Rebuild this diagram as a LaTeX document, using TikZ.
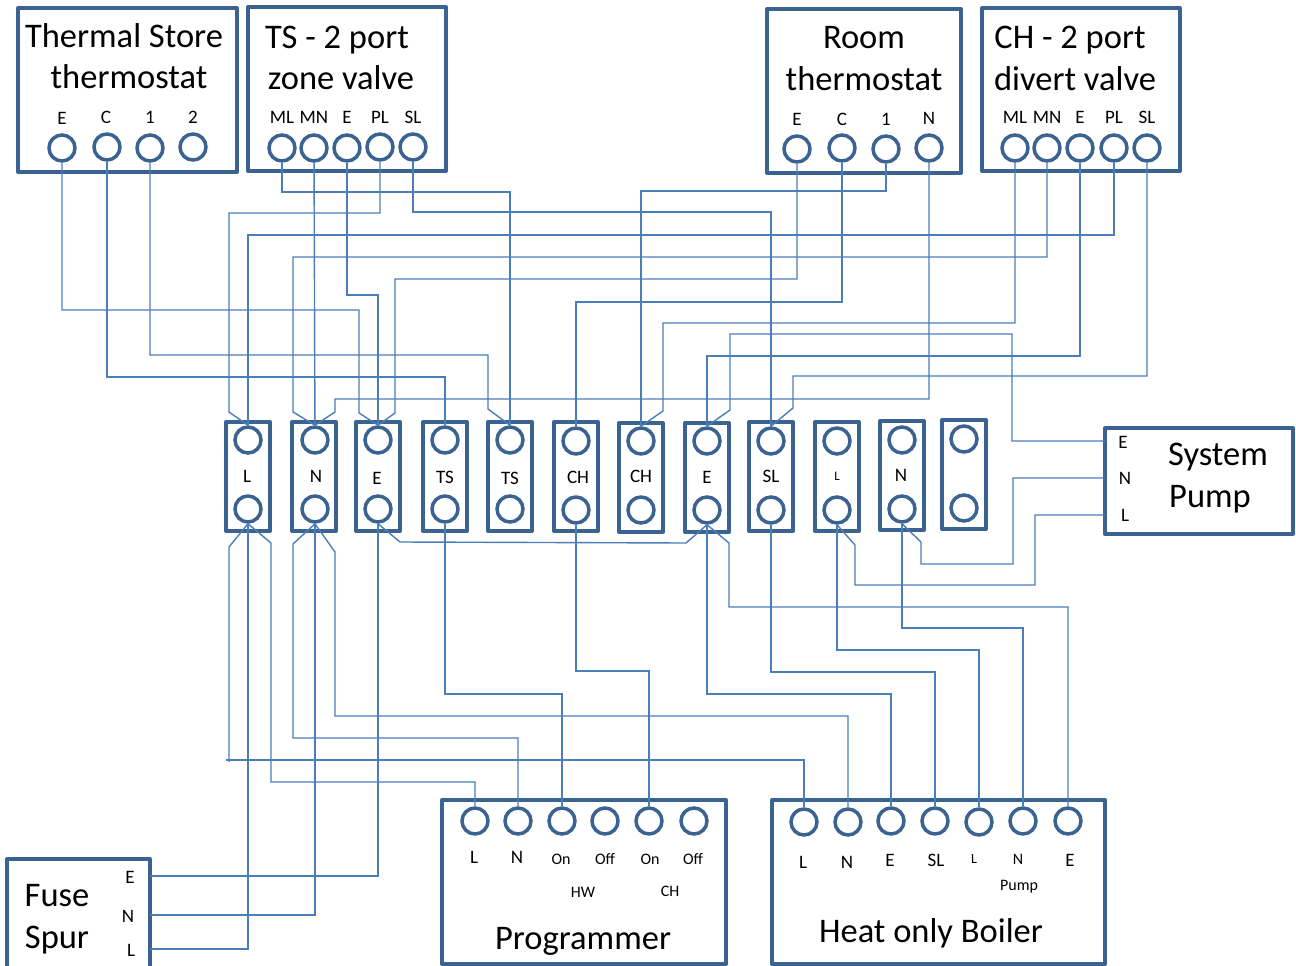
\documentclass[tikz,border=0pt]{standalone}
\usepackage{fontspec}
\setmainfont{Carlito}
\definecolor{boxblue}{HTML}{3B6392}
\definecolor{wireblue}{HTML}{4A7EBB}
\tikzset{
    box/.style={draw=boxblue,line width=4pt,line join=round,inner sep=0,outer sep=0,anchor=north west},
    strip/.style={box,minimum width=44,minimum height=109},
    term/.style={draw=boxblue,line width=3.5pt,circle,minimum size=26,inner sep=0},
    wire/.style={draw=wireblue,line width=1.4pt},
    big/.style={inner sep=0,font=\fontsize{34.5}{38}\selectfont},
    lab/.style={inner sep=0,font=\fontsize{19}{22}\selectfont},
    tiny/.style={inner sep=0,font=\fontsize{16}{19}\selectfont}
}
\begin{document}
\begin{tikzpicture}[x=1pt,y=-1pt]
    \useasboundingbox (0,0) rectangle (1296,966);
    % top units
    \node[box,minimum width=219,minimum height=164] (tstat) at (18,8) {};
    \node[big] (tstata) at (124,36) {Thermal Store};
    \node[big] (tstatb) at (129,77) {thermostat};
    \node[lab] (tElab) at (62,118) {E};
    \node[lab] (tClab) at (106,117) {C};
    \node[lab] (tOlab) at (150,117) {1};
    \node[lab] (tTlab) at (193,117) {2};
    \node[term] (tE) at (62,148) {};
    \node[term] (tC) at (107,147) {};
    \node[term] (tO) at (150,148) {};
    \node[term] (tT) at (193,147) {};

    \node[box,minimum width=198,minimum height=164] (zone) at (248,7) {};
    \node[big] (zonea) at (337,40) {TS - 2 port};
    \node[big] (zoneb) at (341,78) {zone valve};
    \node[lab] (zMLlab) at (282,117) {ML};
    \node[lab] (zMNlab) at (314,117) {MN};
    \node[lab] (zElab) at (347,117) {E};
    \node[lab] (zPLlab) at (380,117) {PL};
    \node[lab] (zSLlab) at (413,117) {SL};
    \node[term] (zML) at (282,148) {};
    \node[term] (zMN) at (314,148) {};
    \node[term] (zE) at (347,148) {};
    \node[term] (zPL) at (380,147) {};
    \node[term] (zSL) at (413,147) {};

    \node[box,minimum width=194,minimum height=164] (room) at (767,9) {};
    \node[big] (rooma) at (864,38) {Room};
    \node[big] (roomb) at (864,79) {thermostat};
    \node[lab] (rElab) at (797,119) {E};
    \node[lab] (rClab) at (842,119) {C};
    \node[lab] (rOlab) at (886,119) {1};
    \node[lab] (rNlab) at (929,118) {N};
    \node[term] (rE) at (797,149) {};
    \node[term] (rC) at (842,148) {};
    \node[term] (rO) at (886,149) {};
    \node[term] (rN) at (929,148) {};

    \node[box,minimum width=198,minimum height=163] (divert) at (982,8) {};
    \node[big] (diverta) at (1070,40) {CH - 2 port};
    \node[big] (divertb) at (1075,79) {divert valve};
    \node[lab] (cMLlab) at (1015,117) {ML};
    \node[lab] (cMNlab) at (1047,117) {MN};
    \node[lab] (cElab) at (1080,117) {E};
    \node[lab] (cPLlab) at (1114,117) {PL};
    \node[lab] (cSLlab) at (1147,117) {SL};
    \node[term] (cML) at (1015,148) {};
    \node[term] (cMN) at (1047,148) {};
    \node[term] (cE) at (1080,148) {};
    \node[term] (cPL) at (1114,148) {};
    \node[term] (cSL) at (1147,148) {};

    % terminal strips
    \node[strip] (sa) at (226,422) {};
    \node[lab] (salab) at (247,476) {L};
    \node[term] (saT) at (248,440) {};
    \node[term] (saB) at (248,509) {};
    \node[strip] (sb) at (292,422) {};
    \node[lab] (sblab) at (316,476) {N};
    \node[term] (sbT) at (315,440) {};
    \node[term] (sbB) at (315,509) {};
    \node[strip] (sc) at (356,422) {};
    \node[lab] (sclab) at (377,478) {E};
    \node[term] (scT) at (378,440) {};
    \node[term] (scB) at (378,509) {};
    \node[strip] (sd) at (423,422) {};
    \node[lab] (sdlab) at (445,477) {TS};
    \node[term] (sdT) at (445,440) {};
    \node[term] (sdB) at (445,509) {};
    \node[strip] (se) at (488,422) {};
    \node[lab] (selab) at (510,478) {TS};
    \node[term] (seT) at (510,440) {};
    \node[term] (seB) at (510,509) {};
    \node[strip] (sf) at (554,422) {};
    \node[lab] (sflab) at (578,477) {CH};
    \node[term] (sfT) at (576,441) {};
    \node[term] (sfB) at (576,510) {};
    \node[strip] (sg) at (619,423) {};
    \node[lab] (sglab) at (641,476) {CH};
    \node[term] (sgT) at (641,441) {};
    \node[term] (sgB) at (641,510) {};
    \node[strip] (sh) at (685,423) {};
    \node[lab] (shlab) at (707,477) {E};
    \node[term] (shT) at (707,441) {};
    \node[term] (shB) at (707,510) {};
    \node[strip] (si) at (749,422) {};
    \node[lab] (silab) at (771,476) {SL};
    \node[term] (siT) at (771,441) {};
    \node[term] (siB) at (771,510) {};
    \node[strip] (sj) at (815,422) {};
    \node[inner sep=0,font=\fontsize{13}{15}\selectfont] (sjlab) at (837,476) {L};
    \node[term] (sjT) at (837,441) {};
    \node[term] (sjB) at (837,510) {};
    \node[strip] (sk) at (880,421) {};
    \node[lab] (sklab) at (901,475) {N};
    \node[term] (skT) at (902,440) {};
    \node[term] (skB) at (902,509) {};
    \node[strip] (sl) at (942,420) {};
    \node[term] (slT) at (964,439) {};
    \node[term] (slB) at (964,508) {};

    % system pump
    \node[box,minimum width=188,minimum height=106] (pump) at (1105,428) {};
    \node[big] (pumpa) at (1218,457) {System};
    \node[big] (pumpb) at (1210,499) {Pump};
    \node[lab] (pElab) at (1123,442) {E};
    \node[lab] (pNlab) at (1125,478) {N};
    \node[lab] (pLlab) at (1125,515) {L};
    \coordinate (pE) at (1105,441);
    \coordinate (pN) at (1105,478);
    \coordinate (pL) at (1105,515);

    % fuse spur, runs off the bottom edge
    \draw[draw=boxblue,line width=4pt,line join=round] (7,966) |- (150,859) -- (150,966);
    \node[big] (fusea) at (57,896) {Fuse};
    \node[big] (fuseb) at (57,940) {Spur};
    \node[lab] (fElab) at (130,877) {E};
    \node[lab] (fNlab) at (128,916) {N};
    \node[lab] (fLlab) at (131,950) {L};
    \coordinate (fE) at (150,876);
    \coordinate (fN) at (150,915);
    \coordinate (fL) at (150,949);

    % programmer
    \node[box,minimum width=284,minimum height=164] (prog) at (442,800) {};
    \node[big] (proglab) at (583,941) {Programmer};
    \node[lab] (pgLlab) at (474,857) {L};
    \node[lab] (pgNlab) at (517,857) {N};
    \node[tiny] (pgAlab) at (561,859) {On};
    \node[tiny] (pgBlab) at (605,859) {Off};
    \node[tiny] (pgClab) at (650,859) {On};
    \node[tiny] (pgDlab) at (693,859) {Off};
    \node[tiny] (pgHW) at (583,892) {HW};
    \node[tiny] (pgCH) at (670,891) {CH};
    \node[term] (pgL) at (475,821) {};
    \node[term] (pgN) at (518,821) {};
    \node[term] (pgA) at (562,821) {};
    \node[term] (pgB) at (605,821) {};
    \node[term] (pgC) at (649,821) {};
    \node[term] (pgD) at (694,821) {};

    % boiler
    \node[box,minimum width=333,minimum height=164] (boiler) at (772,800) {};
    \node[big] (boilerlab) at (931,933) {Heat only Boiler};
    \node[lab] (bLlab) at (803,862) {L};
    \node[lab] (bNlab) at (847,862) {N};
    \node[lab] (bElab) at (890,860) {E};
    \node[lab] (bSlab) at (936,860) {SL};
    \node[inner sep=0,font=\fontsize{14}{16}\selectfont] (bPLlab) at (974,859) {L};
    \node[tiny] (bPNlab) at (1018,859) {N};
    \node[lab] (bPElab) at (1070,860) {E};
    \node[tiny] (bPump) at (1019,887) {Pump};
    \node[term] (bL) at (804,822) {};
    \node[term] (bN) at (848,822) {};
    \node[term] (bE) at (891,821) {};
    \node[term] (bS) at (935,821) {};
    \node[term] (bPL) at (979,822) {};
    \node[term] (bPN) at (1023,821) {};
    \node[term] (bPE) at (1068,821) {};

    % upper wiring
    \draw[wire] (tE) -- (62,310) -- (359,310) -- (359,413) -- (scT.north);
    \draw[wire] (tC) -- (107,377) -- (445,377) -- (sdT);
    \draw[wire] (tO) -- (150,355) -- (488,355) -- (488,409) -- (seT.north);
    \draw[wire] (zML) -- (282,192) -- (510,192) -- (seT);
    \draw[wire] (zMN) -- (sbT);
    \draw[wire] (zE) -- (347,295) -- (378,295) -- (scT);
    \draw[wire] (zPL) -- (380,213) -- (229,213) -- (229,412) -- (saT.north);
    \draw[wire] (zSL) -- (413,212) -- (771,212) -- (siT);
    \draw[wire] (rE) -- (797,279) -- (395,279) -- (395,413) -- (scT.north);
    \draw[wire] (rC) -- (842,302) -- (576,302) -- (sfT);
    \draw[wire] (rO) -- (886,191) -- (641,191) -- (sgT);
    \draw[wire] (rN) -- (929,399) -- (335,399) -- (335,412) -- (sbT.north);
    \draw[wire] (cML) -- (1015,323) -- (663,323) -- (663,411) -- (sgT.north);
    \draw[wire] (cMN) -- (1047,257) -- (293,257) -- (293,412) -- (sbT.north);
    \draw[wire] (cE) -- (1080,356) -- (707,356) -- (shT);
    \draw[wire] (cPL) -- (1114,235) -- (248,235) -- (saT);
    \draw[wire] (cSL) -- (1147,376) -- (793,376) -- (793,408) -- (siT.north);

    % pump wiring
    \draw[wire] (pE) -- (1012,441) -- (1012,334) -- (730,334) -- (730,410) -- (shT.north);
    \draw[wire] (pN) -- (1013,478) -- (1013,564) -- (921,564) -- (921,542) -- (skB.south);
    \draw[wire] (pL) -- (1035,515) -- (1035,585) -- (855,585) -- (855,545) -- (sjB.south);

    % lower wiring
    \draw[wire] (scB.south) -- (400,542) -- (686,543) -- (shB.south);
    \draw[wire] (shB.south) -- (729,543) -- (729,607) -- (1068,607) -- (bPE);
    \draw[wire] (shB) -- (707,694) -- (891,694) -- (bE);
    \draw[wire] (siB) -- (771,672) -- (935,672) -- (bS);
    \draw[wire] (sjB) -- (837,650) -- (979,650) -- (bPL);
    \draw[wire] (skB) -- (902,628) -- (1023,628) -- (bPN);
    \draw[wire] (sdB) -- (445,694) -- (562,694) -- (pgA);
    \draw[wire] (sfB) -- (576,671) -- (649,671) -- (pgC);
    \draw[wire] (saB.south) -- (229,547) -- (229,762);
    \draw[wire] (226,760) -- (804,760) -- (bL);
    \draw[wire] (saB.south) -- (271,543) -- (271,782) -- (475,782) -- (pgL);
    \draw[wire] (saB) -- (248,949) -- (fL);
    \draw[wire] (sbB.south) -- (293,544) -- (293,738) -- (518,738) -- (pgN);
    \draw[wire] (sbB.south) -- (335,552) -- (335,716) -- (848,716) -- (bN);
    \draw[wire] (sbB) -- (315,915) -- (fN);
    \draw[wire] (scB) -- (378,876) -- (fE);
\end{tikzpicture}
\end{document}
